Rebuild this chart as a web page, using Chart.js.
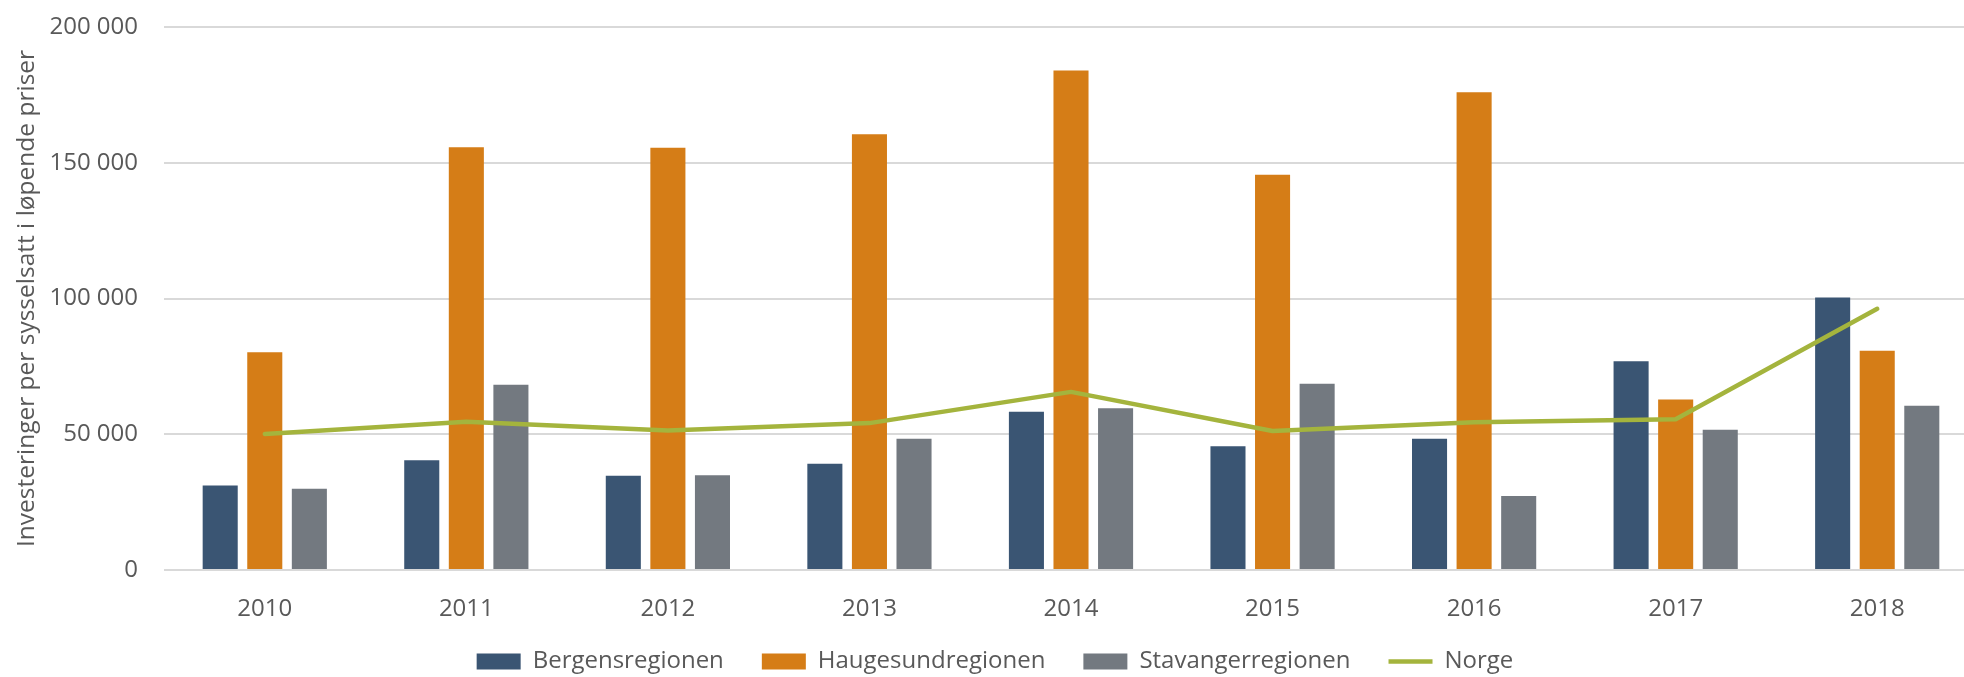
<!DOCTYPE html>
<html>
<head>
<meta charset="utf-8">
<script src="https://cdn.jsdelivr.net/npm/chart.js@4.4.1/dist/chart.umd.min.js"></script>
<style>
  html, body { margin: 0; padding: 0; background: #fff; overflow: hidden; }
  #wrap { width: 1978px; height: 697px; }
</style>
</head>
<body>
<div id="wrap"><canvas id="chart" width="1978" height="697"></canvas></div>
<script>
const YEARS = ["2010", "2011", "2012", "2013", "2014", "2015", "2016", "2017", "2018"];
const BERGEN = [31100, 40400, 34700, 39100, 58300, 45600, 48300, 76900, 100400];
const HAUGESUND = [80200, 155700, 155500, 160500, 184000, 145600, 176000, 62800, 80800];
const STAVANGER = [29900, 68200, 34900, 48300, 59600, 68600, 27300, 51700, 60500];
const NORGE = [50100, 54600, 51400, 54100, 65600, 51200, 54400, 55500, 96200];
const Y_TICKS = [0, 50000, 100000, 150000, 200000];

const TEXT = "#595959";
const FONT = "'Open Sans', sans-serif";

function spaced(v) {
  return String(v).replace(/\B(?=(\d{3})+(?!\d))/g, " ");
}

// legend sits a bit closer to the axis labels than chart.js would put it
const legendShift = {
  id: "legendShift",
  afterLayout(chart) {
    chart.legend.top -= 13.5;
    chart.legend.bottom -= 13.5;
  }
};

const barOpts = { categoryPercentage: 0.6635, barPercentage: 0.7865, order: 1 };

new Chart(document.getElementById("chart"), {
  type: "bar",
  data: {
    labels: YEARS,
    datasets: [
      { label: "Bergensregionen", data: BERGEN, backgroundColor: "#3A5573", ...barOpts },
      { label: "Haugesundregionen", data: HAUGESUND, backgroundColor: "#D57D17", ...barOpts },
      { label: "Stavangerregionen", data: STAVANGER, backgroundColor: "#737980", ...barOpts },
      {
        type: "line", label: "Norge", data: NORGE, order: 0,
        borderColor: "#A4B43D", backgroundColor: "#A4B43D", borderWidth: 4.5,
        borderCapStyle: "round", borderJoinStyle: "round",
        pointRadius: 0, tension: 0
      }
    ]
  },
  plugins: [legendShift],
  options: {
    responsive: false,
    animation: false,
    devicePixelRatio: 1,
    layout: { padding: { top: 27, left: 12, right: 0, bottom: 0 } },
    scales: {
      x: {
        offset: true,
        grid: { display: false, drawTicks: false },
        border: { display: false },
        ticks: { color: TEXT, font: { family: FONT, size: 24 }, padding: 25 },
        afterFit: (scale) => { scale.height = 55; }
      },
      y: {
        min: 0,
        max: 200000,
        afterBuildTicks: (axis) => { axis.ticks = Y_TICKS.map(v => ({ value: v })); },
        afterFit: (scale) => { scale.width = 152; scale.paddingTop = 0; scale.paddingBottom = 0; },
        grid: { color: "#D9D9D9", lineWidth: 2, drawTicks: false },
        border: { display: false },
        ticks: { color: TEXT, font: { family: FONT, size: 24 }, padding: 26, callback: (v) => spaced(v) },
        title: {
          display: true,
          text: "Investeringer per sysselsatt i løpende priser",
          color: TEXT,
          font: { family: FONT, size: 24.5 },
          padding: { top: 0, bottom: 10 }
        }
      }
    },
    plugins: {
      tooltip: { enabled: false },
      legend: {
        position: "bottom",
        labels: {
          color: TEXT,
          font: { family: FONT, size: 24 },
          usePointStyle: true,
          pointStyleWidth: 44,
          boxHeight: 16,
          padding: 38,
          sort: (a, b) => a.datasetIndex - b.datasetIndex,
          generateLabels: (chart) => {
            const items = Chart.defaults.plugins.legend.labels.generateLabels(chart);
            return items.map(it => {
              if (it.datasetIndex === 3) {
                it.pointStyle = "line";
                it.lineWidth = 4.5;
              } else {
                it.pointStyle = "rect";
                it.lineWidth = 0;
              }
              return it;
            });
          }
        }
      }
    }
  }
});
</script>
</body>
</html>
